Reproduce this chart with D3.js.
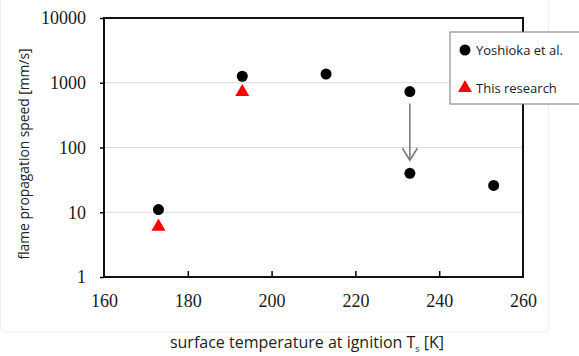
<!DOCTYPE html>
<html>
<head>
<meta charset="utf-8">
<script src="https://cdn.jsdelivr.net/npm/d3@7"></script>
<style>
  body { margin: 0; background: #fff; }
  svg { display: block; }
</style>
</head>
<body>
<script>
// data
var yoshiokaTemp = [173, 193, 213, 233, 233, 253];
var yoshiokaSpeed = [11, 1260, 1360, 730, 40, 26];
var researchTemp = [173, 193];
var researchSpeed = [6, 720];
var xTicks = [160, 180, 200, 220, 240, 260];
var yTicks = [1, 10, 100, 1000, 10000];
var legendLabels = ["Yoshioka et al.", "This research"];

var width = 579, height = 356;
var margin = { left: 104, top: 18, right: 56, bottom: 79 };
var serif = "Liberation Serif";
var sans = "Open Sans";

var svg = d3.select("body").append("svg")
    .attr("width", width)
    .attr("height", height);

// faint outer border of the pasted chart
svg.append("rect")
    .attr("x", 0.5).attr("y", -4)
    .attr("width", 548).attr("height", 336)
    .attr("rx", 4)
    .attr("fill", "none")
    .attr("stroke", "#eeeeee");

var x = d3.scaleLinear().domain([160, 260]).range([margin.left, width - margin.right]);
var y = d3.scaleLog().domain([1, 10000]).range([height - margin.bottom, margin.top]);

// gridlines
svg.selectAll("line.grid")
    .data(yTicks.filter(function (d) { return d > 1 && d < 10000; }))
    .enter().append("line")
    .attr("class", "grid")
    .attr("x1", x(160)).attr("x2", x(260))
    .attr("y1", function (d) { return y(d); })
    .attr("y2", function (d) { return y(d); })
    .attr("stroke", "#d9d9d9")
    .attr("stroke-width", 1.2);

// y axis
var yAxis = svg.append("g")
    .attr("transform", "translate(" + x(160) + ",0)")
    .call(d3.axisLeft(y).tickValues(yTicks).tickFormat(d3.format("d")).tickSize(4).tickPadding(14))
    .attr("font-family", serif)
    .attr("font-size", 18);
yAxis.select(".domain").remove();
yAxis.selectAll("line").attr("stroke", "#000").attr("stroke-width", 1.5);
yAxis.selectAll("text").attr("fill", "#1a1a1a");

// x axis, ticks pointing inward
var xAxis = svg.append("g")
    .attr("transform", "translate(0," + y(1) + ")")
    .call(d3.axisBottom(x).tickValues(xTicks).tickSize(-6).tickPadding(17))
    .attr("font-family", serif)
    .attr("font-size", 18);
xAxis.select(".domain").remove();
xAxis.selectAll("line").attr("stroke", "#000").attr("stroke-width", 1.5);
xAxis.selectAll(".tick").filter(function (d) { return d == 160 || d == 260; }).select("line").remove();
xAxis.selectAll("text").attr("fill", "#1a1a1a");

// frame
svg.append("rect")
    .attr("x", x(160)).attr("y", y(10000))
    .attr("width", x(260) - x(160))
    .attr("height", y(1) - y(10000))
    .attr("fill", "none")
    .attr("stroke", "#111")
    .attr("stroke-width", 2);

// arrow between the two 233 K points
var ax = x(233);
var aTop = y(730) + 12;
var aTip = y(40) - 13;
svg.append("line")
    .attr("x1", ax).attr("x2", ax)
    .attr("y1", aTop).attr("y2", aTip)
    .attr("stroke", "#777")
    .attr("stroke-width", 1.5);
svg.append("path")
    .attr("d", "M" + (ax - 7.5) + "," + (aTip - 12) + " L" + ax + "," + aTip + " L" + (ax + 7.5) + "," + (aTip - 12))
    .attr("fill", "none")
    .attr("stroke", "#777")
    .attr("stroke-width", 1.5);

// Yoshioka points
svg.selectAll("circle.yosh")
    .data(yoshiokaTemp)
    .enter().append("circle")
    .attr("class", "yosh")
    .attr("cx", function (d) { return x(d); })
    .attr("cy", function (d, i) { return y(yoshiokaSpeed[i]); })
    .attr("r", 5.5)
    .attr("fill", "#000");

// this research points
var tri = d3.symbol().type(d3.symbolTriangle).size(85);
svg.selectAll("path.res")
    .data(researchTemp)
    .enter().append("path")
    .attr("class", "res")
    .attr("d", tri)
    .attr("transform", function (d, i) {
        return "translate(" + x(d) + "," + y(researchSpeed[i]) + ")";
    })
    .attr("fill", "#ff0000");

// axis titles
svg.append("text")
    .attr("transform", "translate(29,154) rotate(-90)")
    .attr("text-anchor", "middle")
    .attr("font-family", sans)
    .attr("font-size", 13.8)
    .attr("fill", "#222")
    .text("flame propagation speed [mm/s]");

var xt = svg.append("text")
    .attr("x", 307).attr("y", 348)
    .attr("text-anchor", "middle")
    .attr("font-family", sans)
    .attr("font-size", 16)
    .attr("fill", "#222");
xt.append("tspan").text("surface temperature at ignition T");
xt.append("tspan").attr("font-size", 9).attr("dy", 4).text("s");
xt.append("tspan").attr("dy", -4).text(" [K]");

// legend
var legend = svg.append("g").attr("transform", "translate(450,32)");
legend.append("rect")
    .attr("width", 134).attr("height", 72)
    .attr("fill", "#fff")
    .attr("stroke", "#777")
    .attr("stroke-width", 1);
legend.append("circle")
    .attr("cx", 15).attr("cy", 18).attr("r", 5.5).attr("fill", "#000");
legend.append("path")
    .attr("d", tri)
    .attr("transform", "translate(15,56)")
    .attr("fill", "#ff0000");
legend.selectAll("text")
    .data(legendLabels)
    .enter().append("text")
    .attr("x", 26)
    .attr("y", function (d, i) { return 23 + i * 38; })
    .attr("font-family", sans)
    .attr("font-size", 13)
    .attr("fill", "#222")
    .text(function (d) { return d; });
</script>
</body>
</html>
